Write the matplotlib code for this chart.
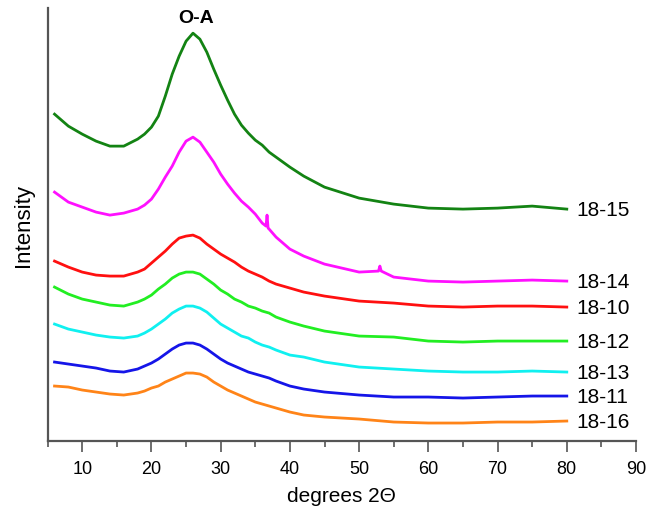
import matplotlib
matplotlib.use("Agg")
import matplotlib.pyplot as plt
from matplotlib.ticker import MultipleLocator

plt.rcParams['font.family'] = ['Liberation Sans', 'DejaVu Sans']

# 2-theta sample positions (degrees)
two_theta = [6, 8, 10, 12, 14, 16, 18, 19, 20, 21, 22, 23, 24, 25, 26, 27, 28, 29, 30, 31, 32,
             33, 34, 35, 36, 37, 38, 40, 42, 45, 50, 55, 60, 65, 70, 75, 80]

# Intensities (arbitrary units, stacked offsets as in the figure)
s_18_15 = [327, 315, 307, 300, 295, 295, 302, 307, 314, 325, 345, 367, 385, 400, 408, 402, 389, 372, 356, 341, 327,
           316, 308, 301, 296, 289, 284, 274, 265, 254, 243, 237, 233, 232, 233, 235, 232]
s_18_14 = [249, 239, 234, 229, 226, 228, 232, 236, 242, 252, 264, 275, 289, 300, 304, 299, 289, 279, 267, 257, 248,
           240, 234, 227, 218, 212, 204, 192, 185, 177, 169, 164, 160, 159, 160, 161, 160]
s_18_10 = [180, 174, 169, 166, 165, 165, 169, 172, 178, 184, 190, 197, 203, 205, 206, 203, 197, 192, 187, 183, 179,
           174, 170, 167, 164, 160, 157, 153, 149, 145, 140, 138, 135, 134, 135, 135, 134]
s_18_12 = [154, 147, 142, 139, 136, 135, 139, 142, 146, 152, 157, 163, 167, 169, 169, 167, 162, 157, 151, 147, 142,
           139, 135, 133, 130, 128, 124, 119, 115, 110, 105, 104, 100, 99, 100, 100, 100]
s_18_13 = [117, 112, 109, 106, 104, 103, 105, 108, 112, 117, 122, 128, 132, 135, 135, 133, 129, 123, 117, 113, 109,
           105, 103, 99, 96, 94, 91, 86, 84, 79, 74, 72, 70, 69, 69, 70, 69]
s_18_11 = [79, 77, 75, 73, 70, 69, 72, 75, 78, 82, 87, 92, 96, 98, 98, 96, 92, 87, 82, 78, 75,
           72, 69, 67, 65, 63, 60, 55, 52, 49, 46, 44, 44, 43, 44, 45, 45]
s_18_16 = [55, 54, 51, 49, 47, 46, 48, 50, 53, 55, 59, 62, 65, 68, 68, 67, 64, 59, 55, 51, 48,
           45, 42, 39, 37, 35, 33, 29, 26, 24, 22, 19, 18, 18, 19, 19, 20]

labels = ["18-15", "18-14", "18-10", "18-12", "18-13", "18-11", "18-16"]
colors = ["#138313", "#ff10ff", "#ff1010", "#22ee22", "#10f0f0", "#1515e8", "#ff8418"]

# sharp reflections seen on 18-14
peak14_x = [36.55, 36.7, 36.85, 52.8, 53.0, 53.2]
peak14_y = [215, 226, 213, 170, 175, 170]

fig = plt.figure(figsize=(6.65, 5.10), dpi=100)
ax = fig.add_axes([0.0716, 0.1333, 0.8848, 0.8487])

all_series = [s_18_15, s_18_14, s_18_10, s_18_12, s_18_13, s_18_11, s_18_16]
for name, vals, col in zip(labels, all_series, colors):
    pts = list(zip(two_theta, vals))
    if name == "18-14":
        pts = sorted(pts + list(zip(peak14_x, peak14_y)))
    xs = [p[0] for p in pts]
    ys = [p[1] for p in pts]
    ax.plot(xs, ys, color=col, lw=2.0, solid_joinstyle='round')
    ax.text(81.4, vals[-1], name, fontsize=15, va='center', ha='left', color='black')

ax.text(26.5, 424, "O-A", fontsize=14, fontweight='bold', ha='center', va='center')

ax.set_xlim(5, 90)
ax.set_ylim(0, 433)
ax.xaxis.set_major_locator(MultipleLocator(10))
ax.xaxis.set_minor_locator(MultipleLocator(5))
ax.set_yticks([])
for sp in ['top', 'right']:
    ax.spines[sp].set_visible(False)
for sp in ['left', 'bottom']:
    ax.spines[sp].set_color('#555555')
    ax.spines[sp].set_linewidth(1.6)
ax.tick_params(axis='x', which='major', length=8, width=1.2, color='#555555', labelsize=13, pad=6)
ax.tick_params(axis='x', which='minor', length=4.5, width=1.2, color='#555555')
ax.set_xlabel("degrees 2\u0398", fontsize=15, labelpad=6)
ax.set_ylabel("Intensity", fontsize=16, labelpad=10)

fig.savefig("out.png", dpi=100)
